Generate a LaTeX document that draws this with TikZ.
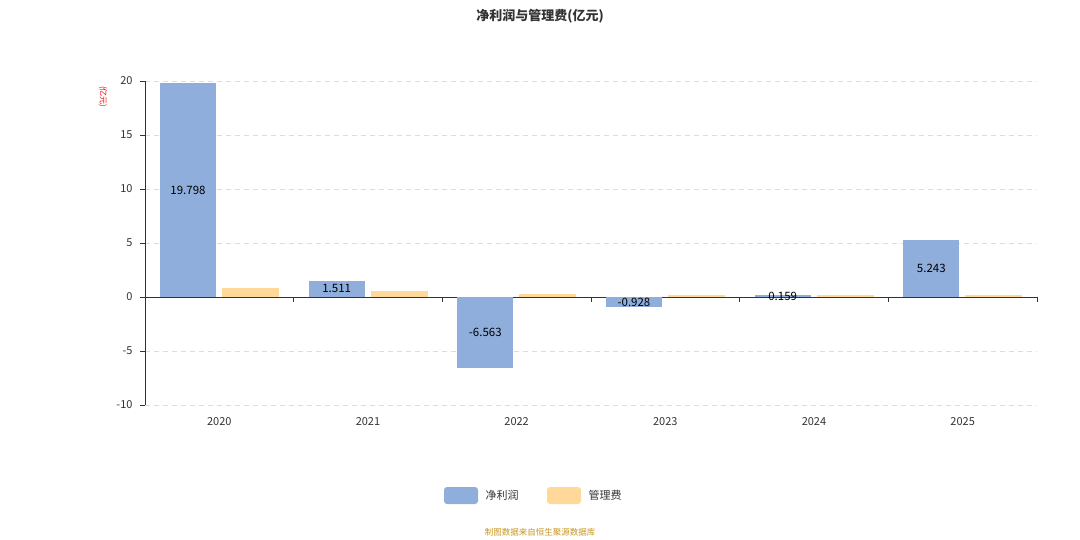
\documentclass[tikz,border=0pt]{standalone}
\usepackage{fontspec}
\setmainfont{Noto Sans CJK SC}
\definecolor{netblue}{HTML}{8FAEDB}
\definecolor{feeyellow}{HTML}{FFD89A}
\definecolor{axisgray}{HTML}{333333}
\definecolor{gridgray}{HTML}{DDDDDD}
\definecolor{srcgold}{HTML}{C8951E}
\tikzset{
  netbar/.style={fill=netblue, draw=none},
  feebar/.style={fill=feeyellow, draw=none},
  ticklabel/.style={font=\fontsize{11}{13}\selectfont, text=axisgray},
  barlabel/.style={font=\fontsize{11.5}{13}\selectfont, text=black, inner sep=0pt}
}
\begin{document}
\begin{tikzpicture}[x=1pt, y=-1pt]
    \useasboundingbox (0,0) rectangle (1080,540);

    % title
    \node (title) at (540,16) {\fontsize{13}{15}\selectfont\bfseries\color{axisgray}净利润与管理费(亿元)};
    \node (unit) [rotate=-90, text=red, font=\fontsize{8}{9}\selectfont] at (103,97) {(亿元)};

    % grid and y ticks
    \foreach \v in {20,15,10,5,0,-5,-10} {
      \draw [gridgray, dashed, dash pattern=on 5pt off 4pt] (145,297-10.8*\v) -- (1037,297-10.8*\v);
      \draw [axisgray] (140,297-10.8*\v) -- (145,297-10.8*\v);
      \node [ticklabel, anchor=east] at (136,297-10.8*\v) {\v};
    }
    \draw [axisgray] (145,81) -- (145,405);
    \draw [axisgray] (145,297) -- (1037,297);

    % bars
    \foreach \yr/\net/\fee [count=\i from 0] in {2020/19.798/0.85, 2021/1.511/0.55, 2022/-6.563/0.3,
                                                 2023/-0.928/0.15, 2024/0.159/0.15, 2025/5.243/0.15} {
      \pgfmathsetmacro{\xl}{145+148.67*\i}
      \draw [axisgray] (\xl,297) -- (\xl,302);
      \fill [netbar] (\xl+15,297) rectangle (\xl+71,297-10.8*\net);
      \fill [feebar] (\xl+77,297) rectangle (\xl+134,297-10.8*\fee);
      \node [barlabel] (lab\i) at (\xl+43,297-5.4*\net) {\net};
      \node [ticklabel] (yr\i) at (\xl+74.3,422) {\yr};
    }
    \draw [axisgray] (1037,297) -- (1037,302);

    % legend
    \fill [netbar, rounded corners=3pt] (444,487) rectangle (478,504);
    \node [ticklabel, anchor=west] (lgnet) at (482,495) {净利润};
    \fill [feebar, rounded corners=3pt] (547,487) rectangle (581,504);
    \node [ticklabel, anchor=west] (lgfee) at (585,495) {管理费};

    % source
    \node [text=srcgold, font=\fontsize{8.5}{10}\selectfont] (src) at (540,532) {制图数据来自恒生聚源数据库};
\end{tikzpicture}
\end{document}
